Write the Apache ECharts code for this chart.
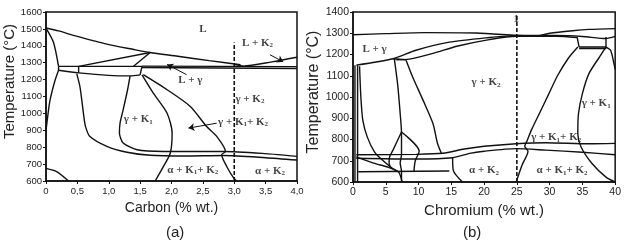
<!DOCTYPE html>
<html>
<head>
<meta charset="utf-8">
<script src="https://cdn.jsdelivr.net/npm/echarts@6/dist/echarts.min.js"></script>
<style>
  html, body { margin: 0; padding: 0; background: #fff; }
  #chart { width: 624px; height: 245px; }
</style>
</head>
<body>
<div id="chart"></div>
<script>
// ---- panel (a): Fe-C section, carbon % wt. ----
const aLiquidus = [[0, 1505], [0.2, 1488], [0.44, 1462], [0.97, 1410], [1.4, 1378], [1.66, 1360], [2.1, 1338], [2.6, 1312], [3.1, 1288]]
const aLiqK2 = [[3.0, 1290], [3.15, 1280], [3.6, 1305], [4.0, 1332]]
const aSolidusLeft = [[0, 1505], [0.12, 1420], [0.2, 1278]]
const aGammaLeft = [[0.2, 1255], [0.14, 1190], [0.06, 1070], [0.01, 930], [0, 900]]
const aBoxTop = [[0.2, 1278], [1.53, 1278]]
const aBoxBottom = [[0.2, 1255], [0.52, 1240], [1.0, 1225], [1.34, 1222], [1.5, 1228]]
const aBoxLeft = [[0.2, 1278], [0.2, 1255]]
const aBoxMid = [[0.52, 1278], [0.52, 1240]]
const aBoxRight = [[1.53, 1278], [1.5, 1228]]
const aLg1 = [[0.52, 1278], [1.66, 1360]]
const aLg2 = [[1.39, 1278], [1.66, 1360]]
const aEut1 = [[1.53, 1280], [4.0, 1277]]
const aEut2 = [[1.53, 1272], [4.0, 1266]]
const aLine05 = [[0.49, 1235], [0.54, 1160], [0.57, 1080], [0.6, 990], [0.63, 922], [0.7, 863], [0.97, 805], [1.29, 770], [1.66, 752], [2.2, 748], [2.83, 751], [3.5, 738], [4.0, 724]]
const aLoopInner = [[1.34, 1222], [1.3, 1140], [1.23, 1022], [1.18, 943], [1.17, 884], [1.23, 825], [1.45, 785], [1.87, 775], [2.83, 775], [3.5, 762], [4.0, 746]]
const aLoopRight = [[1.53, 1228], [1.71, 1120], [1.93, 1001], [2.01, 883], [1.98, 764], [1.87, 685], [1.74, 600]]
const aCurveK2 = [[1.55, 1229], [1.93, 1140], [2.3, 1041], [2.56, 922], [2.72, 864], [2.86, 775], [2.8, 756], [2.88, 686], [2.99, 618], [3.04, 600]]
const aBottomLeft = [[0, 675], [0.17, 656], [0.36, 600]]
const aDashed = [[3.0, 600], [3.0, 1420]]
const aArrows = [[[2.24, 1229], [1.93, 1290]], [[3.57, 1347], [3.78, 1305]], [[2.72, 942], [2.27, 913]]]
const aLabelPos = [[2.5, 1501], [3.37, 1418], [2.3, 1199], [3.25, 1087], [1.47, 963], [3.14, 951], [2.34, 667], [3.57, 661]]
const aLabelText = ['L', 'L + K_2', 'L + γ', 'γ + K_2', 'γ + K_1', 'γ + K_1+ K_2', 'α + K_1+ K_2', 'α + K_2']

// ---- panel (b): chromium % wt. ----
const bLiquidus = [[0, 1293], [5, 1298], [11, 1303], [18.8, 1301], [24.9, 1290], [27.9, 1286], [30, 1300], [33.5, 1312], [36, 1318], [40, 1322]]
const bLine2 = [[24.9, 1290], [31, 1290], [35, 1285], [38.6, 1275], [40, 1285]]
const bLgUpper = [[0.5, 1150], [6.1, 1180], [9.6, 1220], [14.7, 1258], [20.8, 1280], [24.9, 1290]]
const bLgLower = [[6.6, 1175], [8.6, 1178], [12.2, 1205], [16, 1240], [20.8, 1270], [24.9, 1286], [31, 1286], [34.2, 1280]]
const bBoxLeft = [[34.2, 1282], [34.5, 1235]]
const bBoxTop = [[34.5, 1235], [38.6, 1235]]
const bBoxBottom = [[34.5, 1228], [38.6, 1228]]
const bBoxRight = [[38.6, 1282], [38.6, 1228]]
const bRightSmall = [[38.6, 1235], [39.3, 1220], [39.8, 1160], [40, 1130]]
const bCurveMid = [[34.3, 1235], [32.8, 1180], [31.2, 1100], [29.8, 1010], [28.4, 920], [27.3, 850], [26.5, 790], [26.2, 768], [26.7, 745], [25.8, 680], [24.9, 600]]
const bLoopK1 = [[38.6, 1235], [37.6, 1188], [36, 1110], [35, 1016], [34.4, 921], [34.3, 827], [34.8, 765], [36.5, 686], [38.6, 623], [40, 600]]
const bUpper = [[0.5, 728], [9.6, 730], [13.7, 735], [17, 755], [20, 768], [24.9, 780], [29.4, 785], [36, 780], [40, 782]]
const bLower = [[0.5, 712], [9.6, 708], [15.2, 714], [17.8, 735], [20, 745], [24.9, 757], [29.4, 750], [35, 740], [40, 728]]
const bLine650 = [[0.8, 648], [14.7, 652]]
const bVert15 = [[15.2, 714], [15.3, 655], [16.7, 600]]
const bDiag1 = [[1, 1145], [1.2, 1000], [1.5, 890], [2.2, 810], [3.3, 741], [4.6, 700], [6, 665], [7, 645], [7.5, 600]]
const bDiag2 = [[0.5, 718], [3, 690], [5.5, 668], [7, 648]]
const bVert7 = [[6.3, 1181], [6.8, 1063], [7.2, 922], [7.4, 828], [7.4, 730], [7.2, 690], [7.4, 650], [7.4, 600]]
const bLeftV1 = [[0.3, 1150], [0.3, 600]]
const bLeftV2 = [[0.7, 1150], [0.7, 600]]
const bTopSeg = [[6.1, 1180], [8.1, 1175]]
const bLineRight = [[8.1, 1173], [9.1, 1094], [10.7, 984], [12.2, 875], [12.9, 781], [13.5, 734]]
const bDiamondL = [[7.4, 835], [6.1, 750], [5.6, 720], [5.5, 690], [5.8, 665]]
const bDiamondR = [[7.4, 835], [10.1, 745], [9.5, 700], [9.3, 650]]
const bDashed = [[25, 600], [25, 1385]]
const bLabelPos = [[3.3, 1224], [20.3, 1069], [37.1, 970], [31, 810], [20, 655], [31.9, 655], [24.9, 1368]]
const bLabelText = ['L + γ', 'γ + K_2', 'γ + K_1', 'γ + K_1+ K_2', 'α + K_2', 'α + K_1+ K_2', '1']

const INK = '#111'

function curve(data, g, extra) {
  return Object.assign({
    type: 'line', xAxisIndex: g, yAxisIndex: g, data,
    symbol: 'none', smooth: 0.25, silent: true,
    lineStyle: { color: INK, width: 1.4 }
  }, extra || {})
}

function straight(data, g) {
  return curve(data, g, { smooth: false })
}

function toRich(s) {
  return s.split(/_(\d)/).map((t, i) => t === '' ? '' : (i % 2 ? `{s|${t}}` : `{b|${t}}`)).join('')
}

function labels(pos, text, g) {
  return {
    type: 'scatter', xAxisIndex: g, yAxisIndex: g, symbolSize: 0, silent: true,
    data: pos.map((p, i) => [p[0], p[1], text[i]]),
    label: {
      show: true, position: 'inside',
      formatter: p => toRich(p.data[2]),
      rich: {
        b: { fontFamily: 'Liberation Serif', fontWeight: 'bold', fontSize: 11, color: INK },
        s: { fontFamily: 'Liberation Serif', fontWeight: 'bold', fontSize: 7, color: INK, padding: [5, 0, 0, 0] }
      }
    }
  }
}

function arrows(list, g) {
  return {
    type: 'line', xAxisIndex: g, yAxisIndex: g, data: [], silent: true,
    markLine: {
      silent: true, symbol: ['none', 'arrow'], symbolSize: 6,
      label: { show: false },
      lineStyle: { color: INK, width: 1, type: 'solid' },
      data: list.map(a => [{ coord: a[0] }, { coord: a[1] }])
    }
  }
}

function xAxis(g, max, interval, name, fmt, fs) {
  return {
    type: 'value', gridIndex: g, min: 0, max, interval,
    name, nameLocation: 'middle', nameGap: 20,
    nameTextStyle: { fontFamily: 'Liberation Sans', fontSize: fs, color: '#222' },
    axisLine: { show: true, lineStyle: { color: INK, width: 1.5 } },
    axisTick: { show: true, length: 3, lineStyle: { color: INK } },
    axisLabel: { margin: 5, formatter: fmt, fontFamily: 'Liberation Sans', fontSize: fs - 4.5, color: '#222' },
    splitLine: { show: false }
  }
}

function yAxis(g, min, max, fs, shift) {
  return {
    type: 'value', gridIndex: g, min, max, interval: 100,
    name: 'Temperature (°C)', nameLocation: 'middle', nameGap: 28,
    nameTextStyle: { fontFamily: 'Liberation Sans', fontSize: fs, color: '#222', padding: [0, 0, 0, shift] },
    axisLine: { show: true, lineStyle: { color: INK, width: 1.5 } },
    axisTick: { show: true, length: 3, lineStyle: { color: INK } },
    axisLabel: { margin: 4, formatter: v => String(v), fontFamily: 'Liberation Sans', fontSize: fs - 5.5, color: '#222' },
    splitLine: { show: false }
  }
}

const chart = echarts.init(document.getElementById('chart'))
chart.setOption({
  animation: false,
  backgroundColor: '#fff',
  title: [
    { text: '(a)', left: 161, top: 220, textStyle: { fontFamily: 'Liberation Sans', fontSize: 15, fontWeight: 'normal', color: '#222' } },
    { text: '(b)', left: 458, top: 220, textStyle: { fontFamily: 'Liberation Sans', fontSize: 15, fontWeight: 'normal', color: '#222' } }
  ],
  grid: [
    { left: 46, top: 12, right: 327, bottom: 64, show: true, borderColor: INK, borderWidth: 1.5 },
    { left: 353, top: 12, right: 8, bottom: 63, show: true, borderColor: INK, borderWidth: 1.5 }
  ],
  xAxis: [
    xAxis(0, 4, 0.5, 'Carbon (% wt.)', v => v === 0 ? '0' : v.toFixed(1).replace('.', ','), 14),
    xAxis(1, 40, 5, 'Chromium (% wt.)', v => String(v), 15)
  ],
  yAxis: [yAxis(0, 600, 1600, 15, 30), yAxis(1, 600, 1400, 16, 10)],
  series: [
    curve(aLiquidus, 0), curve(aLiqK2, 0), curve(aSolidusLeft, 0), curve(aGammaLeft, 0),
    straight(aBoxTop, 0), curve(aBoxBottom, 0), straight(aBoxLeft, 0), straight(aBoxMid, 0), straight(aBoxRight, 0),
    straight(aLg1, 0), straight(aLg2, 0),
    straight(aEut1, 0), straight(aEut2, 0),
    curve(aLine05, 0), curve(aLoopInner, 0), curve(aLoopRight, 0), curve(aCurveK2, 0), curve(aBottomLeft, 0),
    curve(aDashed, 0, { smooth: false, lineStyle: { color: INK, width: 1.6, type: [4, 2] } }),
    arrows(aArrows, 0),
    labels(aLabelPos, aLabelText, 0),

    curve(bLiquidus, 1), curve(bLine2, 1), curve(bLgUpper, 1), curve(bLgLower, 1),
    straight(bBoxLeft, 1), straight(bBoxTop, 1), straight(bBoxBottom, 1), straight(bBoxRight, 1),
    curve(bRightSmall, 1), curve(bCurveMid, 1), curve(bLoopK1, 1),
    curve(bUpper, 1), curve(bLower, 1), straight(bLine650, 1), curve(bVert15, 1),
    curve(bDiag1, 1), curve(bDiag2, 1), curve(bVert7, 1), straight(bLeftV1, 1), straight(bLeftV2, 1),
    straight(bTopSeg, 1), curve(bLineRight, 1), curve(bDiamondL, 1), curve(bDiamondR, 1),
    curve(bDashed, 1, { smooth: false, lineStyle: { color: INK, width: 1.6, type: [4, 2] } }),
    labels(bLabelPos, bLabelText, 1)
  ]
})
</script>
</body>
</html>
